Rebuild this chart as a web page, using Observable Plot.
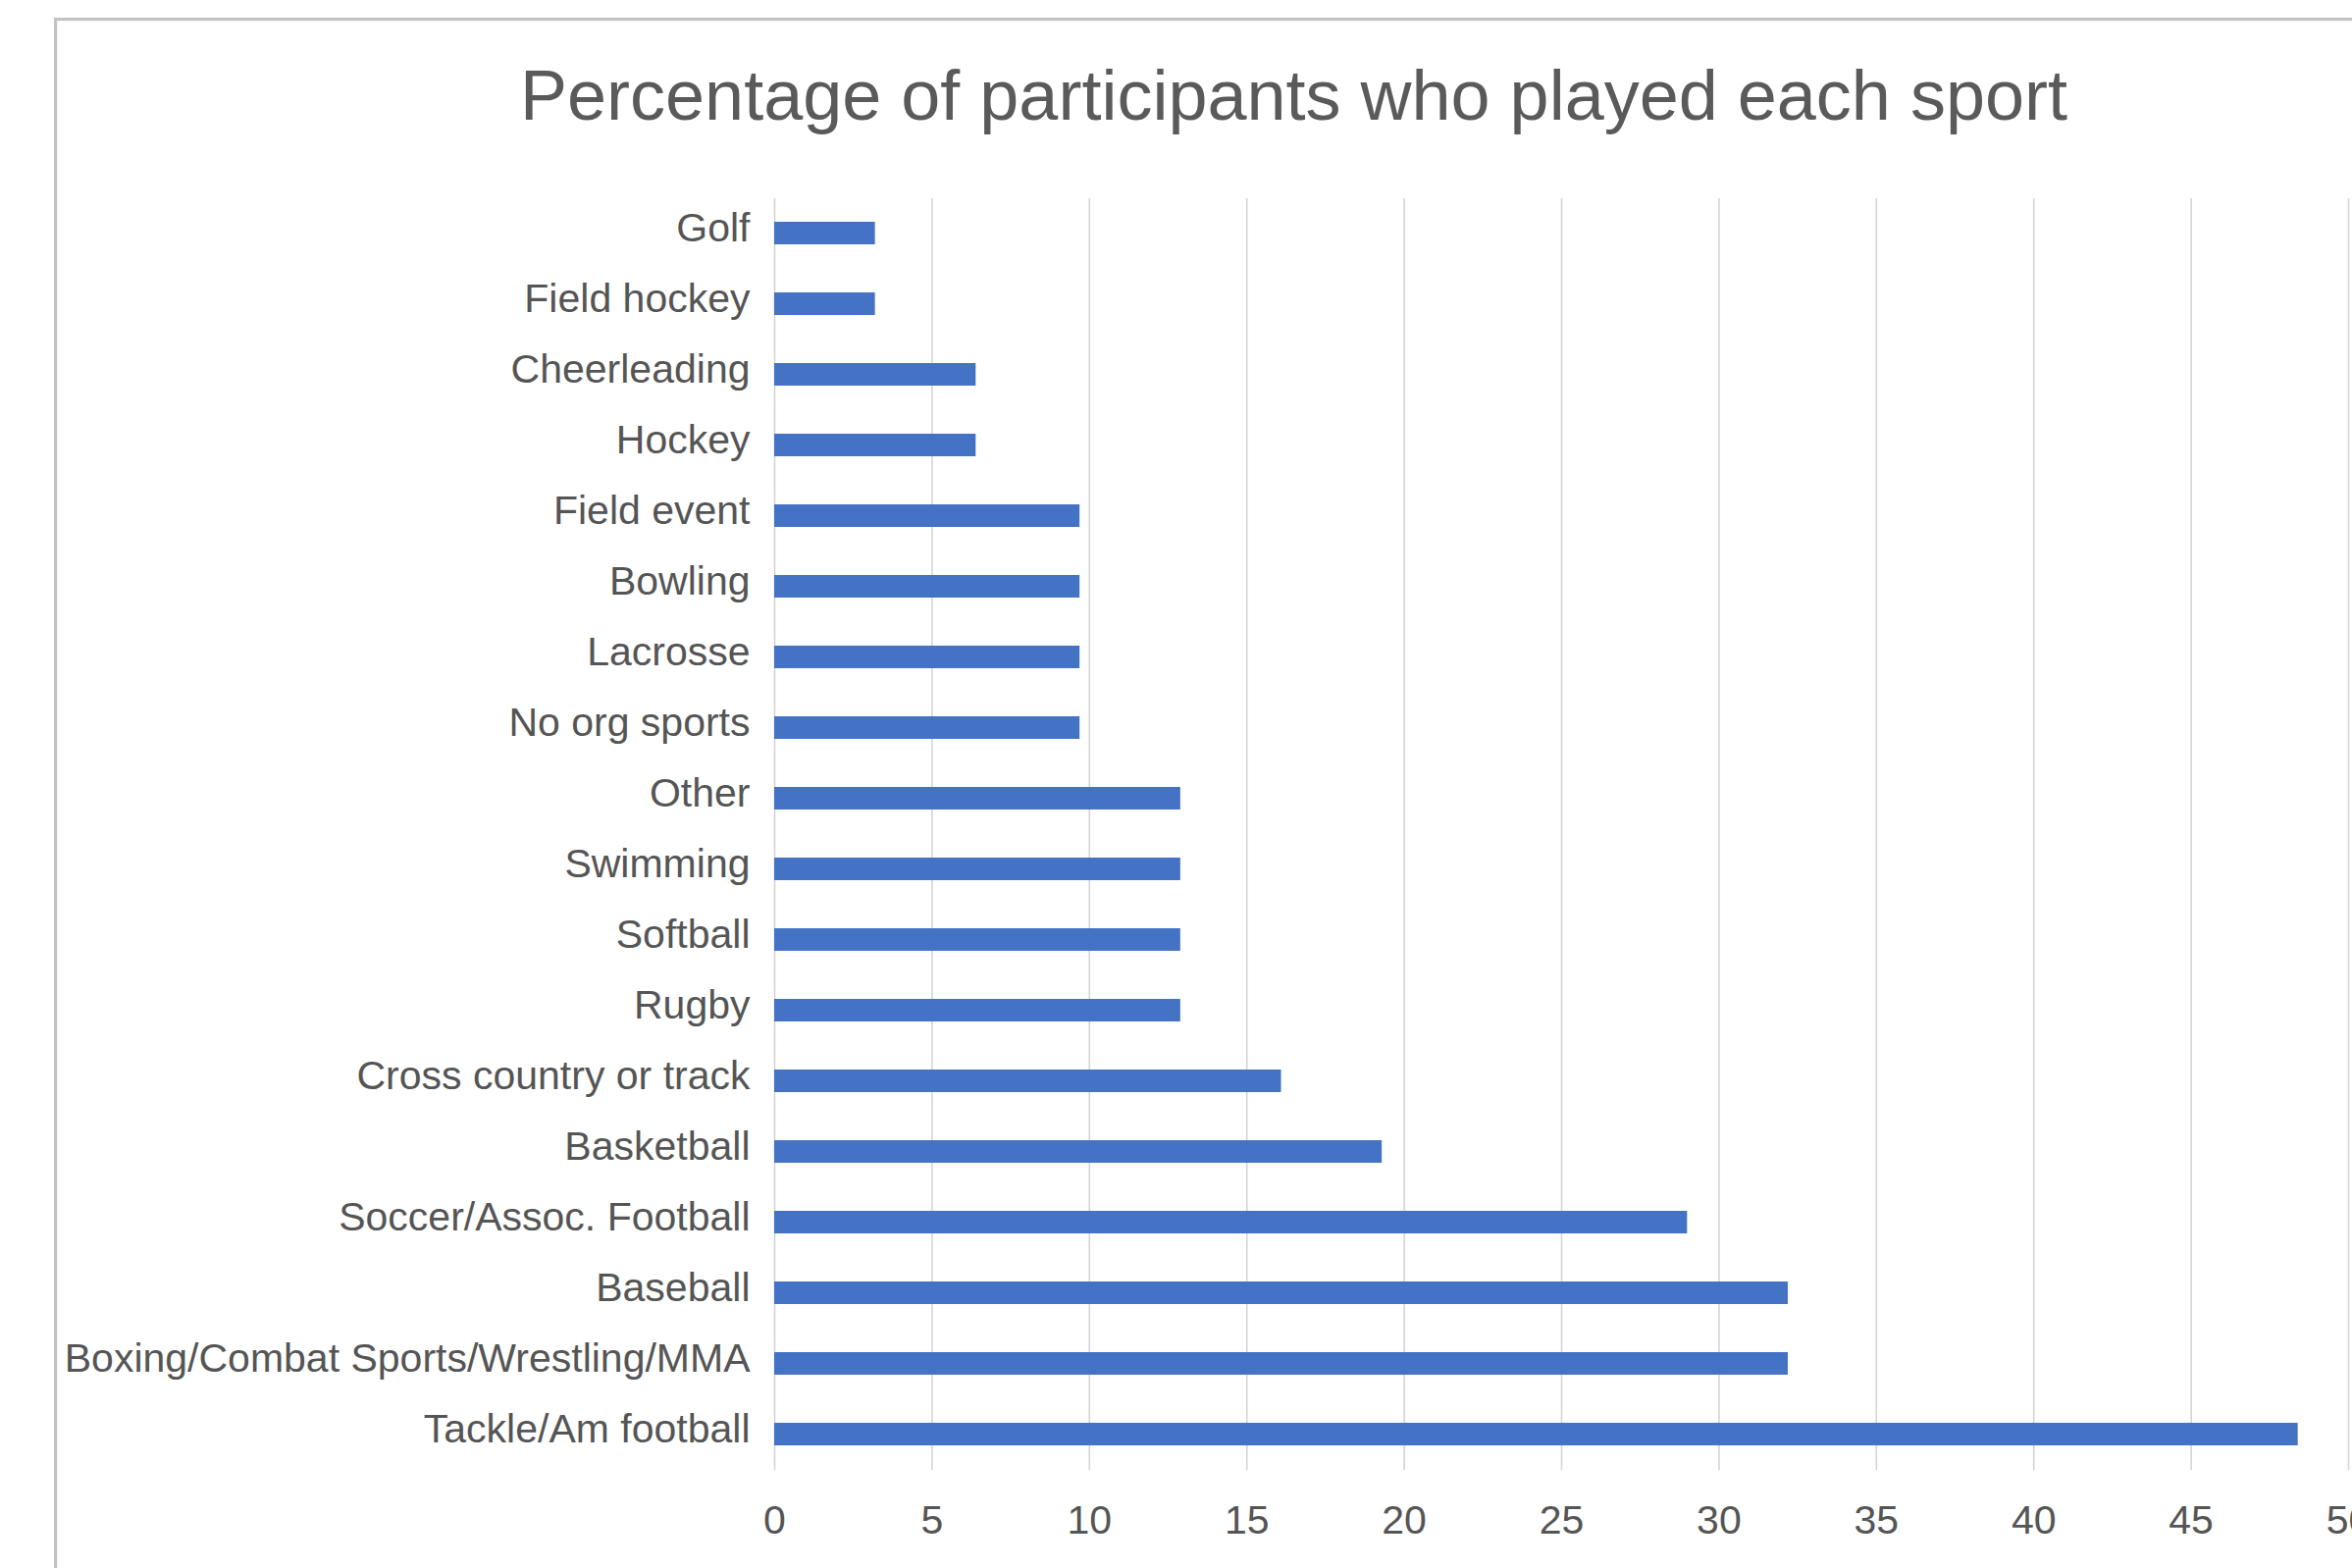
<!DOCTYPE html>
<html>
<head>
<meta charset="utf-8">
<script src="https://cdn.jsdelivr.net/npm/d3@7"></script>
<script src="https://cdn.jsdelivr.net/npm/@observablehq/plot@0.6"></script>
<style>
  html, body { margin: 0; padding: 0; background: #fff; overflow: hidden; width: 2397px; height: 1598px; }
  body { position: relative; font-family: "Liberation Sans", Arial, Helvetica, sans-serif; }
  #frame { position: absolute; left: 55px; top: 18px; width: 2400px; height: 1600px; border-top: 3px solid #c2c2c2; border-left: 3px solid #c2c2c2; box-sizing: border-box; box-shadow: inset 1px 1px 1px rgba(0,0,0,0.06); }
  #title { position: relative; height: 160px; }
  #title span { position: absolute; left: 530px; top: 61px; font-size: 72px; line-height: 1; color: #5a5a5a; white-space: nowrap; }
  #chart { position: relative; }
</style>
</head>
<body>
<div id="frame"></div>
<div id="title"><span>Percentage of participants who played each sport</span></div>
<div id="chart"></div>
<script>
const sports = [
  "Golf", "Field hockey", "Cheerleading", "Hockey", "Field event", "Bowling",
  "Lacrosse", "No org sports", "Other", "Swimming", "Softball", "Rugby",
  "Cross country or track", "Basketball", "Soccer/Assoc. Football", "Baseball",
  "Boxing/Combat Sports/Wrestling/MMA", "Tackle/Am football"
];
const percentages = [
  3.2, 3.2, 6.4, 6.4, 9.7, 9.7,
  9.7, 9.7, 12.9, 12.9, 12.9, 12.9,
  16.1, 19.3, 29.0, 32.2,
  32.2, 48.4
];
const xTicks = [0, 5, 10, 15, 20, 25, 30, 35, 40, 45, 50];

const data = sports.map((s, i) => ({sport: s, value: percentages[i]}));

const chart = Plot.plot({
  width: 2397,
  height: 1438,
  marginLeft: 789,
  marginRight: 4,
  marginTop: 42,
  marginBottom: 100,
  style: {fontFamily: "'Liberation Sans', Arial, Helvetica, sans-serif", color: "#555555", background: "transparent"},
  x: {domain: [0, 50]},
  y: {domain: sports, paddingInner: 0.676, paddingOuter: 0.338, label: null},
  marks: [
    Plot.gridX(xTicks, {stroke: "#d4d4d4", strokeOpacity: 1, strokeWidth: 1.6}),
    Plot.barX(data, {x: "value", y: "sport", fill: "#4472c4"}),
    Plot.axisX(xTicks, {tickSize: 0, tickPadding: 35, fontSize: 41, label: null, tickFormat: d => String(d)}),
    Plot.axisY({tickSize: 0, tickPadding: 25, fontSize: 41, label: null, dy: -5})
  ]
});
document.getElementById("chart").appendChild(chart);
</script>
</body>
</html>
